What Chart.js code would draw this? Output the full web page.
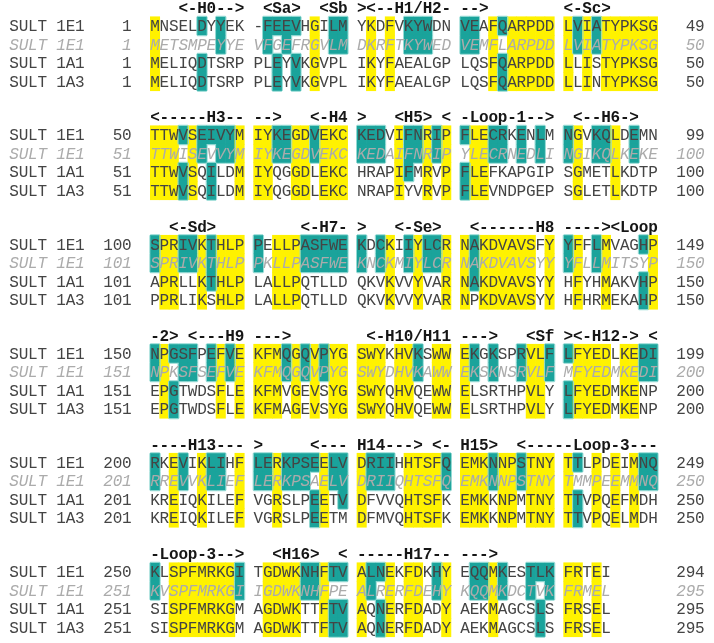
<!DOCTYPE html>
<html lang="en">
<head>
  <meta charset="UTF-8">
  <title>SULT 1E1 / 1A1 / 1A3 alignment</title>
  <script src="https://cdn.jsdelivr.net/npm/chart.js"></script>
  <style>
    body { margin: 0; background: #fff; }
    #wrap { width: 714px; height: 643px; }
  </style>
</head>
<body>
<div id="wrap"><canvas id="chart" width="714" height="643"></canvas></div>
<script>
  // --- data ---
  const names = ['SULT 1E1', 'SULT 1E1', 'SULT 1A1', 'SULT 1A3'];
  const startNums = [[1, 1, 1, 1], [50, 51, 51, 51], [100, 101, 101, 101],
                     [150, 151, 151, 151], [200, 201, 201, 201], [250, 251, 251, 251]];
  const endNums = [[49, 50, 50, 50], [99, 100, 100, 100], [149, 150, 150, 150],
                   [199, 200, 200, 200], [249, 250, 250, 250], [294, 295, 295, 295]];

  const headers = [
    '   <-H0-->  <Sa>  <Sb ><--H1/H2- -->        <-Sc>',
    '<-----H3-- -->   <-H4 >   <H5> < -Loop-1-->  <--H6->',
    '  <-Sd>         <-H7- >   <-Se>   <------H8 ----><Loop',
    '-2> <---H9 --->        <-H10/H11 --->   <Sf ><-H12-> <',
    '----H13--- >     <--- H14---> <- H15>  <-----Loop-3---',
    '-Loop-3-->   <H16>  < -----H17-- --->'
  ];

  const sult1E1 = [
    'MNSELDYYEK -FEEVHGILM YKDFVKYWDN VEAFQARPDD LVIATYPKSG',
    'TTWVSEIVYM IYKEGDVEKC KEDVIFNRIP FLECRKENLM NGVKQLDEMN',
    'SPRIVKTHLP PELLPASFWE KDCKIIYLCR NAKDVAVSFY YFFLMVAGHP',
    'NPGSFPEFVE KFMQGQVPYG SWYKHVKSWW EKGKSPRVLF LFYEDLKEDI',
    'RKEVIKLIHF LERKPSEELV DRIIHHTSFQ EMKNNPSTNY TTLPDEIMNQ',
    'KLSPFMRKGI TGDWKNHFTV ALNEKFDKHY EQQMKESTLK FRTEI'
  ];
  const sult1E1tpl = [
    'METSMPEYYE VFGEFRGVLM DKRFTKYWED VEMFLARPDD LVIATYPKSG',
    'TTWISEVVYM IYKEGDVEKC KEDAIFNRIP YLECRNEDLI NGIKQLKEKE',
    'SPRIVKTHLP PKLLPASFWE KNCKMIYLCR NAKDVAVSYY YFLLMITSYP',
    'NPKSFSEFVE KFMQGQVPYG SWYDHVKAWW EKSKNSRVLF MFYEDMKEDI',
    'RREVVKLIEF LERKPSAELV DRIIQHTSFQ EMKNNPSTNY TMMPEEMMNQ',
    'KVSPFMRKGI IGDWKNHFPE ALRERFDEHY KQQMKDCTVK FRMEL'
  ];
  const sult1A1 = [
    'MELIQDTSRP PLEYVKGVPL IKYFAEALGP LQSFQARPDD LLISTYPKSG',
    'TTWVSQILDM IYQGGDLEKC HRAPIFMRVP FLEFKAPGIP SGMETLKDTP',
    'APRLLKTHLP LALLPQTLLD QKVKVVYVAR NAKDVAVSYY HFYHMAKVHP',
    'EPGTWDSFLE KFMVGEVSYG SWYQHVQEWW ELSRTHPVLY LFYEDMKENP',
    'KREIQKILEF VGRSLPEETV DFVVQHTSFK EMKKNPMTNY TTVPQEFMDH',
    'SISPFMRKGM AGDWKTTFTV AQNERFDADY AEKMAGCSLS FRSEL'
  ];
  const sult1A3 = [
    'MELIQDTSRP PLEYVKGVPL IKYFAEALGP LQSFQARPDD LLINTYPKSG',
    'TTWVSQILDM IYQGGDLEKC NRAPIYVRVP FLEVNDPGEP SGLETLKDTP',
    'PPRLIKSHLP LALLPQTLLD QKVKVVYVAR NPKDVAVSYY HFHRMEKAHP',
    'EPGTWDSFLE KFMAGEVSYG SWYQHVQEWW ELSRTHPVLY LFYEDMKENP',
    'KREIQKILEF VGRSLPEETM DFMVQHTSFK EMKKNPMTNY TTVPQELMDH',
    'SISPFMRKGM AGDWKTTFTV AQNERFDADY AEKMAGCSLS FRSEL'
  ];
  const rows = [sult1E1, sult1E1tpl, sult1A1, sult1A3];

  // --- layout ---
  const SEQ_COL = 15;          // first residue column
  const NUM_END = 13;          // left numbers end before this column
  const COLS = 74;
  const blockY = [26, 135, 244.5, 353.5, 462.5, 572];
  const PITCH = 18.5;
  const HEAD_OFF = -18;
  const YELLOW = '#fff200';
  const TEAL = '#1aa39b';
  const FONT = '"Liberation Mono", "Courier New", monospace';

  const rowY = (b, r) => blockY[b] + r * PITCH;

  // yellow: identical in all four; teal: same residue as the SULT 1E1 row
  function cellClass(b, r, i) {
    const c = rows[r][b][i];
    if (!c || c === ' ' || c === '-') return null;
    const col = rows.map(s => s[b][i]);
    if (col.every(v => v === col[0])) return 'Y';
    if (r === 0) return col.slice(1).some(v => v === c) ? 'T' : null;
    return c === col[0] ? 'T' : null;
  }

  const cells = [];
  for (let b = 0; b < blockY.length; b++) {
    for (let r = 0; r < rows.length; r++) {
      const s = rows[r][b];
      for (let i = 0; i < s.length; i++) {
        const cls = cellClass(b, r, i);
        if (!cls) continue;
        const yc = rowY(b, r);
        cells.push({x: SEQ_COL + i + 0.5, y: [yc - PITCH / 2, yc + PITCH / 2], c: cls});
      }
    }
  }

  const alignText = {
    id: 'alignText',
    afterDatasetsDraw(chart) {
      const ctx = chart.ctx;
      const xs = chart.scales.x, ys = chart.scales.y;
      const cx = col => xs.getPixelForValue(col + 0.5);
      const isTeal = (b, r, i) => r >= 0 && r < rows.length && cellClass(b, r, i) === 'T';

      // light rim round the teal regions
      ctx.save();
      ctx.strokeStyle = '#93dad4';
      ctx.lineWidth = 1;
      for (let b = 0; b < blockY.length; b++) {
        for (let r = 0; r < rows.length; r++) {
          for (let i = 0; i < rows[r][b].length; i++) {
            if (!isTeal(b, r, i)) continue;
            const x0 = xs.getPixelForValue(SEQ_COL + i), x1 = xs.getPixelForValue(SEQ_COL + i + 1);
            const y0 = ys.getPixelForValue(rowY(b, r) - PITCH / 2), y1 = ys.getPixelForValue(rowY(b, r) + PITCH / 2);
            ctx.beginPath();
            if (!isTeal(b, r, i - 1)) { ctx.moveTo(x0 - 0.5, y0); ctx.lineTo(x0 - 0.5, y1); }
            if (!isTeal(b, r, i + 1)) { ctx.moveTo(x1 + 0.5, y0); ctx.lineTo(x1 + 0.5, y1); }
            if (!isTeal(b, r - 1, i)) { ctx.moveTo(x0, y0 - 0.5); ctx.lineTo(x1, y0 - 0.5); }
            if (!isTeal(b, r + 1, i)) { ctx.moveTo(x0, y1 + 0.5); ctx.lineTo(x1, y1 + 0.5); }
            ctx.stroke();
          }
        }
      }
      ctx.restore();

      ctx.save();
      ctx.textAlign = 'center';
      ctx.textBaseline = 'alphabetic';
      const put = (str, col0, yv) => {
        const yp = ys.getPixelForValue(yv) + 5;
        for (let k = 0; k < str.length; k++) {
          if (str[k] !== ' ') ctx.fillText(str[k], cx(col0 + k), yp);
        }
      };
      for (let b = 0; b < blockY.length; b++) {
        ctx.font = 'bold 16px ' + FONT;
        ctx.fillStyle = '#161616';
        put(headers[b], SEQ_COL, rowY(b, 0) + HEAD_OFF);
        for (let r = 0; r < rows.length; r++) {
          const tpl = r === 1;
          ctx.font = (tpl ? 'italic ' : '') + '16px ' + FONT;
          ctx.fillStyle = tpl ? '#ababab' : '#444444';
          const yv = rowY(b, r);
          put(names[r], 0, yv);
          const n0 = String(startNums[b][r]);
          put(n0, NUM_END - n0.length, yv);
          put(rows[r][b], SEQ_COL, yv);
          const n1 = String(endNums[b][r]);
          put(n1, COLS - n1.length, yv);
        }
      }
      ctx.restore();
    }
  };

  new Chart(document.getElementById('chart'), {
    type: 'bar',
    data: {
      datasets: [{
        data: cells,
        backgroundColor: c => (c.raw && c.raw.c === 'Y') ? YELLOW : TEAL,
        borderWidth: 0,
        barPercentage: 1,
        categoryPercentage: 1
      }]
    },
    options: {
      responsive: false,
      animation: false,
      events: [],
      layout: {padding: 0},
      plugins: {legend: {display: false}, tooltip: {enabled: false}},
      scales: {
        x: {type: 'linear', min: 0, max: COLS, display: false, ticks: {stepSize: 1}},
        y: {type: 'linear', min: 0, max: 643, reverse: true, display: false}
      }
    },
    plugins: [alignText]
  });
</script>
</body>
</html>
